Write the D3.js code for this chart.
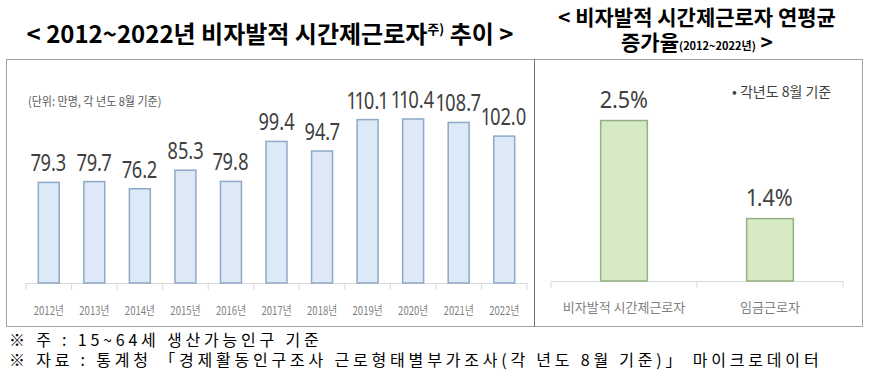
<!DOCTYPE html>
<html>
<head>
<meta charset="utf-8">
<script src="https://cdn.jsdelivr.net/npm/d3@7"></script>
<style>
  body { margin: 0; background: #fff; }
  text { font-family: "Noto Sans CJK KR", "Noto Sans", sans-serif; }
  .num { font-family: "Noto Sans", sans-serif; font-variant-numeric: proportional-nums; }
</style>
</head>
<body>
<div class="displayArea"></div>
<script>
const width = 879, height = 375;

// left chart data
var years = ["2012년", "2013년", "2014년", "2015년", "2016년", "2017년", "2018년", "2019년", "2020년", "2021년", "2022년"],
    workers = [79.3, 79.7, 76.2, 85.3, 79.8, 99.4, 94.7, 110.1, 110.4, 108.7, 102.0]; // 만명

// right chart data
var groups = ["비자발적 시간제근로자", "임금근로자"],
    growth = [2.5, 1.4]; // 연평균 증가율 %

var svg = d3.select(".displayArea")
    .append("svg")
    .attr("width", width)
    .attr("height", height);

// panel frames (dotted)
var frame = svg.append("g")
    .attr("fill", "none")
    .attr("stroke", "#444")
    .attr("stroke-width", 1)
    .attr("stroke-dasharray", "1,1");
frame.append("rect").attr("x", 6.5).attr("y", 59.5).attr("width", 528).attr("height", 267);
frame.append("rect").attr("x", 534.5).attr("y", 59.5).attr("width", 328).attr("height", 267);

// titles
var t1 = svg.append("text")
    .attr("x", 270).attr("y", 43)
    .attr("text-anchor", "middle")
    .attr("font-size", 24).attr("font-weight", "bold").attr("fill", "#000");
t1.append("tspan").text("< 2012~2022년 비자발적 시간제근로자");
t1.append("tspan").attr("font-size", 13).attr("dy", -9).text("주)");
t1.append("tspan").attr("dy", 9).text(" 추이 >");

svg.append("text")
    .attr("x", 697).attr("y", 25)
    .attr("text-anchor", "middle")
    .attr("font-size", 21).attr("font-weight", "bold")
    .text("< 비자발적 시간제근로자 연평균");
var t2 = svg.append("text")
    .attr("x", 697).attr("y", 50)
    .attr("text-anchor", "middle")
    .attr("font-size", 21).attr("font-weight", "bold");
t2.append("tspan").text("증가율");
t2.append("tspan").attr("font-size", 11).text("(2012~2022년)");
t2.append("tspan").text(" >");

// ---------- left chart ----------
var xScale = d3.scaleBand()
    .domain(years)
    .range([26, 527])
    .paddingInner(0.54)
    .paddingOuter(0.27);

var yScale = d3.scaleLinear()
    .domain([30, 120])
    .range([283, 99.4]);

var xAxis = d3.axisBottom(xScale).tickSize(0).tickPadding(0);

var gx = svg.append("g")
    .attr("transform", "translate(0,283)")
    .call(xAxis);
gx.select(".domain").attr("stroke", "#d9d9d9");
gx.selectAll(".tick text")
    .attr("fill", "#7f7f7f")
    .attr("font-size", 12)
    .attr("y", 0)
    .attr("dy", 0)
    .attr("transform", "translate(0,32) scale(0.8,1)");
// separators between categories
svg.append("g").selectAll("line")
    .data(d3.range(years.length + 1))
    .enter()
    .append("line")
    .attr("x1", function (d) { return 26 + d * xScale.step(); })
    .attr("x2", function (d) { return 26 + d * xScale.step(); })
    .attr("y1", 283).attr("y2", 290)
    .attr("stroke", "#d9d9d9");

svg.append("g").selectAll("rect")
    .data(workers)
    .enter()
    .append("rect")
    .attr("x", function (d, i) { return xScale(years[i]); })
    .attr("y", function (d) { return yScale(d); })
    .attr("width", xScale.bandwidth())
    .attr("height", function (d) { return yScale(30) - yScale(d); })
    .attr("fill", "#dde9f6")
    .attr("stroke", "#8ea9c8")
    .attr("stroke-width", 1.5);

svg.append("g").selectAll("text")
    .data(workers)
    .enter()
    .append("text")
    .attr("class", "num")
    .attr("transform", function (d, i) {
        return "translate(" + (xScale(years[i]) + xScale.bandwidth() / 2) + "," + (yScale(d) - 11) + ") scale(0.76,1)";
    })
    .attr("text-anchor", "middle")
    .attr("font-size", 24)
    .attr("fill", "#404040")
    .text(function (d) { return d.toFixed(1); });

svg.append("text")
    .attr("transform", "translate(28,106) scale(0.92,1)")
    .attr("font-size", 12)
    .attr("fill", "#595959")
    .text("(단위: 만명, 각 년도 8월 기준)");

// ---------- right chart ----------
var xScale2 = d3.scaleBand()
    .domain(groups)
    .range([551, 843])
    .paddingInner(0.68)
    .paddingOuter(0.34);

var yScale2 = d3.scaleLinear()
    .domain([0.7, 3.0])
    .range([281, 76]);

var gx2 = svg.append("g")
    .attr("transform", "translate(0,281)")
    .call(d3.axisBottom(xScale2).tickSize(0).tickPadding(0));
gx2.select(".domain").attr("stroke", "#d9d9d9");
gx2.selectAll(".tick text")
    .attr("fill", "#7f7f7f")
    .attr("font-size", 13)
    .attr("y", 31)
    .attr("dy", 0);
svg.append("g").selectAll("line")
    .data(d3.range(groups.length + 1))
    .enter()
    .append("line")
    .attr("x1", function (d) { return 551 + d * xScale2.step(); })
    .attr("x2", function (d) { return 551 + d * xScale2.step(); })
    .attr("y1", 281).attr("y2", 288)
    .attr("stroke", "#d9d9d9");

svg.append("g").selectAll("rect")
    .data(growth)
    .enter()
    .append("rect")
    .attr("x", function (d, i) { return xScale2(groups[i]); })
    .attr("y", function (d) { return yScale2(d); })
    .attr("width", xScale2.bandwidth())
    .attr("height", function (d) { return yScale2(0.7) - yScale2(d); })
    .attr("fill", "#d6eac6")
    .attr("stroke", "#93b17f")
    .attr("stroke-width", 1.5);

svg.append("g").selectAll("text")
    .data(growth)
    .enter()
    .append("text")
    .attr("class", "num")
    .attr("transform", function (d, i) {
        return "translate(" + (xScale2(groups[i]) + xScale2.bandwidth() / 2) + "," + (yScale2(d) - 13) + ") scale(0.9,1)";
    })
    .attr("text-anchor", "middle")
    .attr("font-size", 24)
    .attr("fill", "#404040")
    .text(function (d) { return d.toFixed(1) + "%"; });

svg.append("text")
    .attr("x", 732).attr("y", 97)
    .attr("font-size", 14)
    .attr("fill", "#404040")
    .text("• 각년도 8월 기준");

// footnotes
svg.append("text")
    .attr("x", 9).attr("y", 346)
    .attr("font-size", 16)
    .attr("letter-spacing", 3.8)
    .attr("fill", "#000")
    .text("※ 주 : 15~64세 생산가능인구 기준");
svg.append("text")
    .attr("x", 9).attr("y", 366)
    .attr("font-size", 16)
    .attr("letter-spacing", 3.8)
    .attr("fill", "#000")
    .text("※ 자료 : 통계청 「경제활동인구조사 근로형태별부가조사(각 년도 8월 기준)」 마이크로데이터");
</script>
</body>
</html>
